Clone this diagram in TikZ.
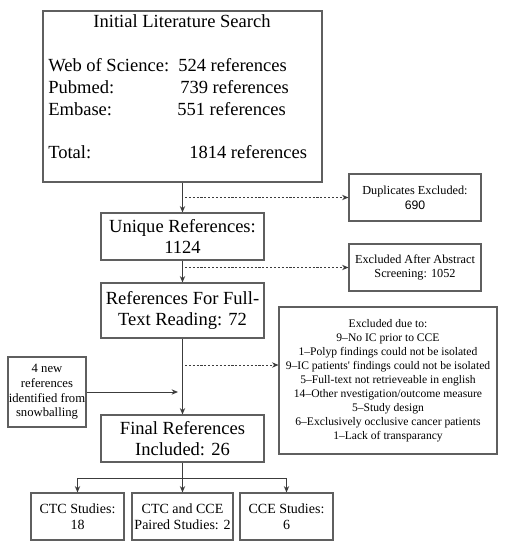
\documentclass[tikz,border=0pt]{standalone}
\usepackage{fontspec}
\setmainfont{Liberation Serif}
\newfontfamily\digitsans{Liberation Sans}
\usetikzlibrary{arrows.meta}
\definecolor{boxgray}{RGB}{95,95,95}
\definecolor{linegray}{RGB}{60,60,60}
\tikzset{
  box/.style={draw=boxgray, line width=0.8pt, rectangle, inner sep=0pt, align=center, text=black},
  bigtxt/.style={font=\fontsize{13.9}{16.3}\selectfont},
  smalltxt/.style={font=\fontsize{9.2}{11}\selectfont},
  listtxt/.style={font=\fontsize{8.7}{10.45}\selectfont},
  midtxt/.style={font=\fontsize{10.5}{11.8}\selectfont},
  snowtxt/.style={font=\fontsize{9.5}{11}\selectfont},
  plain/.style={inner sep=0pt, anchor=base west, font=\fontsize{13.9}{16.3}\selectfont},
  arr/.style={draw=linegray, line width=0.75pt, -{Stealth[length=4.8pt,width=4pt]}},
  darr/.style={draw=linegray, line width=0.7pt, dash pattern=on 1.6pt off 1.3pt, -{Stealth[length=4.8pt,width=4pt]}},
  ln/.style={draw=linegray, line width=0.75pt}
}
\begin{document}
\begin{tikzpicture}[x=0.75pt,y=-0.75pt]
\useasboundingbox (0,0) rectangle (508,550);
% initial box
\node[box, minimum width=279*0.75pt, minimum height=171*0.75pt] (init) at (182.5,96.5) {};
\node[inner sep=0pt, anchor=base, font=\fontsize{13.9}{16.3}\selectfont] (t0) at (182,27) {Initial Literature Search};
\node[plain] (l1) at (48,71) {Web of Science:};
\node[plain] (l2) at (48,93) {Pubmed:};
\node[plain] (l3) at (48,115) {Embase:};
\node[plain] (l4) at (48,158) {Total:};
\node[plain] (r1) at (178,71) {524 references};
\node[plain] (r2) at (180,93) {739 references};
\node[plain] (r3) at (177,115) {551 references};
\node[plain] (r4) at (189,158) {1814 references};
% main column
\node[box, bigtxt, minimum width=163*0.75pt, minimum height=47*0.75pt] (uniq) at (182.5,236.5) {Unique References:\\1124};
\node[box, bigtxt, minimum width=163*0.75pt, minimum height=55*0.75pt] (full) at (182.5,310.5) {References For Full-\\Text Reading: 72};
\node[box, bigtxt, minimum width=163*0.75pt, minimum height=47*0.75pt] (final) at (182.5,438.5) {Final References\\Included: 26};
% right boxes
\node[box, smalltxt, minimum width=132*0.75pt, minimum height=47*0.75pt] (dup) at (415,197.5) {Duplicates Excluded:\\{\digitsans 690}};
\node[box, smalltxt, minimum width=132*0.75pt, minimum height=47*0.75pt] (abs) at (415,267.5) {Excluded After Abstract\\Screening: 1052};
\node[box, listtxt, minimum width=218*0.75pt, minimum height=147*0.75pt] (excl) at (388,380.5) {Excluded due to:\\9--No IC prior to CCE\\1--Polyp findings could not be isolated\\9--IC patients\textquotesingle{} findings could not be isolated\\5--Full-text not retrieveable in english\\14--Other nvestigation/outcome measure\\5--Study design\\6--Exclusively occlusive cancer patients\\1--Lack of transparancy};
% snowballing
\node[box, snowtxt, minimum width=78*0.75pt, minimum height=70*0.75pt] (snow) at (47,392) {4 new\\references\\identified from\\snowballing};
% bottom boxes
\node[box, midtxt, minimum width=93*0.75pt, minimum height=47*0.75pt] (ctc) at (77.5,516.5) {CTC Studies:\\18};
\node[box, midtxt, minimum width=101*0.75pt, minimum height=47*0.75pt] (pair) at (182.5,516.5) {CTC and CCE\\Paired Studies: 2};
\node[box, midtxt, minimum width=93*0.75pt, minimum height=47*0.75pt] (cce) at (286.5,516.5) {CCE Studies:\\6};
% coordinates
\coordinate (d1) at (185,197.5);
\coordinate (d2) at (185,267.5);
\coordinate (d3) at (185,365);
\coordinate (sj) at (178,392);
\coordinate (split) at (182.5,478);
\coordinate (sl) at (77.5,478);
\coordinate (sr) at (286.5,478);
% connectors
\draw[arr] (init.south -| uniq.north) -- (uniq.north);
\draw[arr] (uniq.south) -- (full.north);
\draw[arr] (full.south) -- (final.north);
\draw[darr] (d1) -- (dup.west);
\draw[darr] (d2) -- (abs.west);
\draw[darr] (d3) -- (d3 -| excl.west);
\draw[arr] (snow.east |- sj) -- (sj);
\draw[ln] (final.south) -- (split);
\draw[ln] (sl) -- (sr);
\draw[arr] (sl) -- (ctc.north);
\draw[arr] (split) -- (pair.north);
\draw[arr] (sr) -- (cce.north);
\end{tikzpicture}
\end{document}
